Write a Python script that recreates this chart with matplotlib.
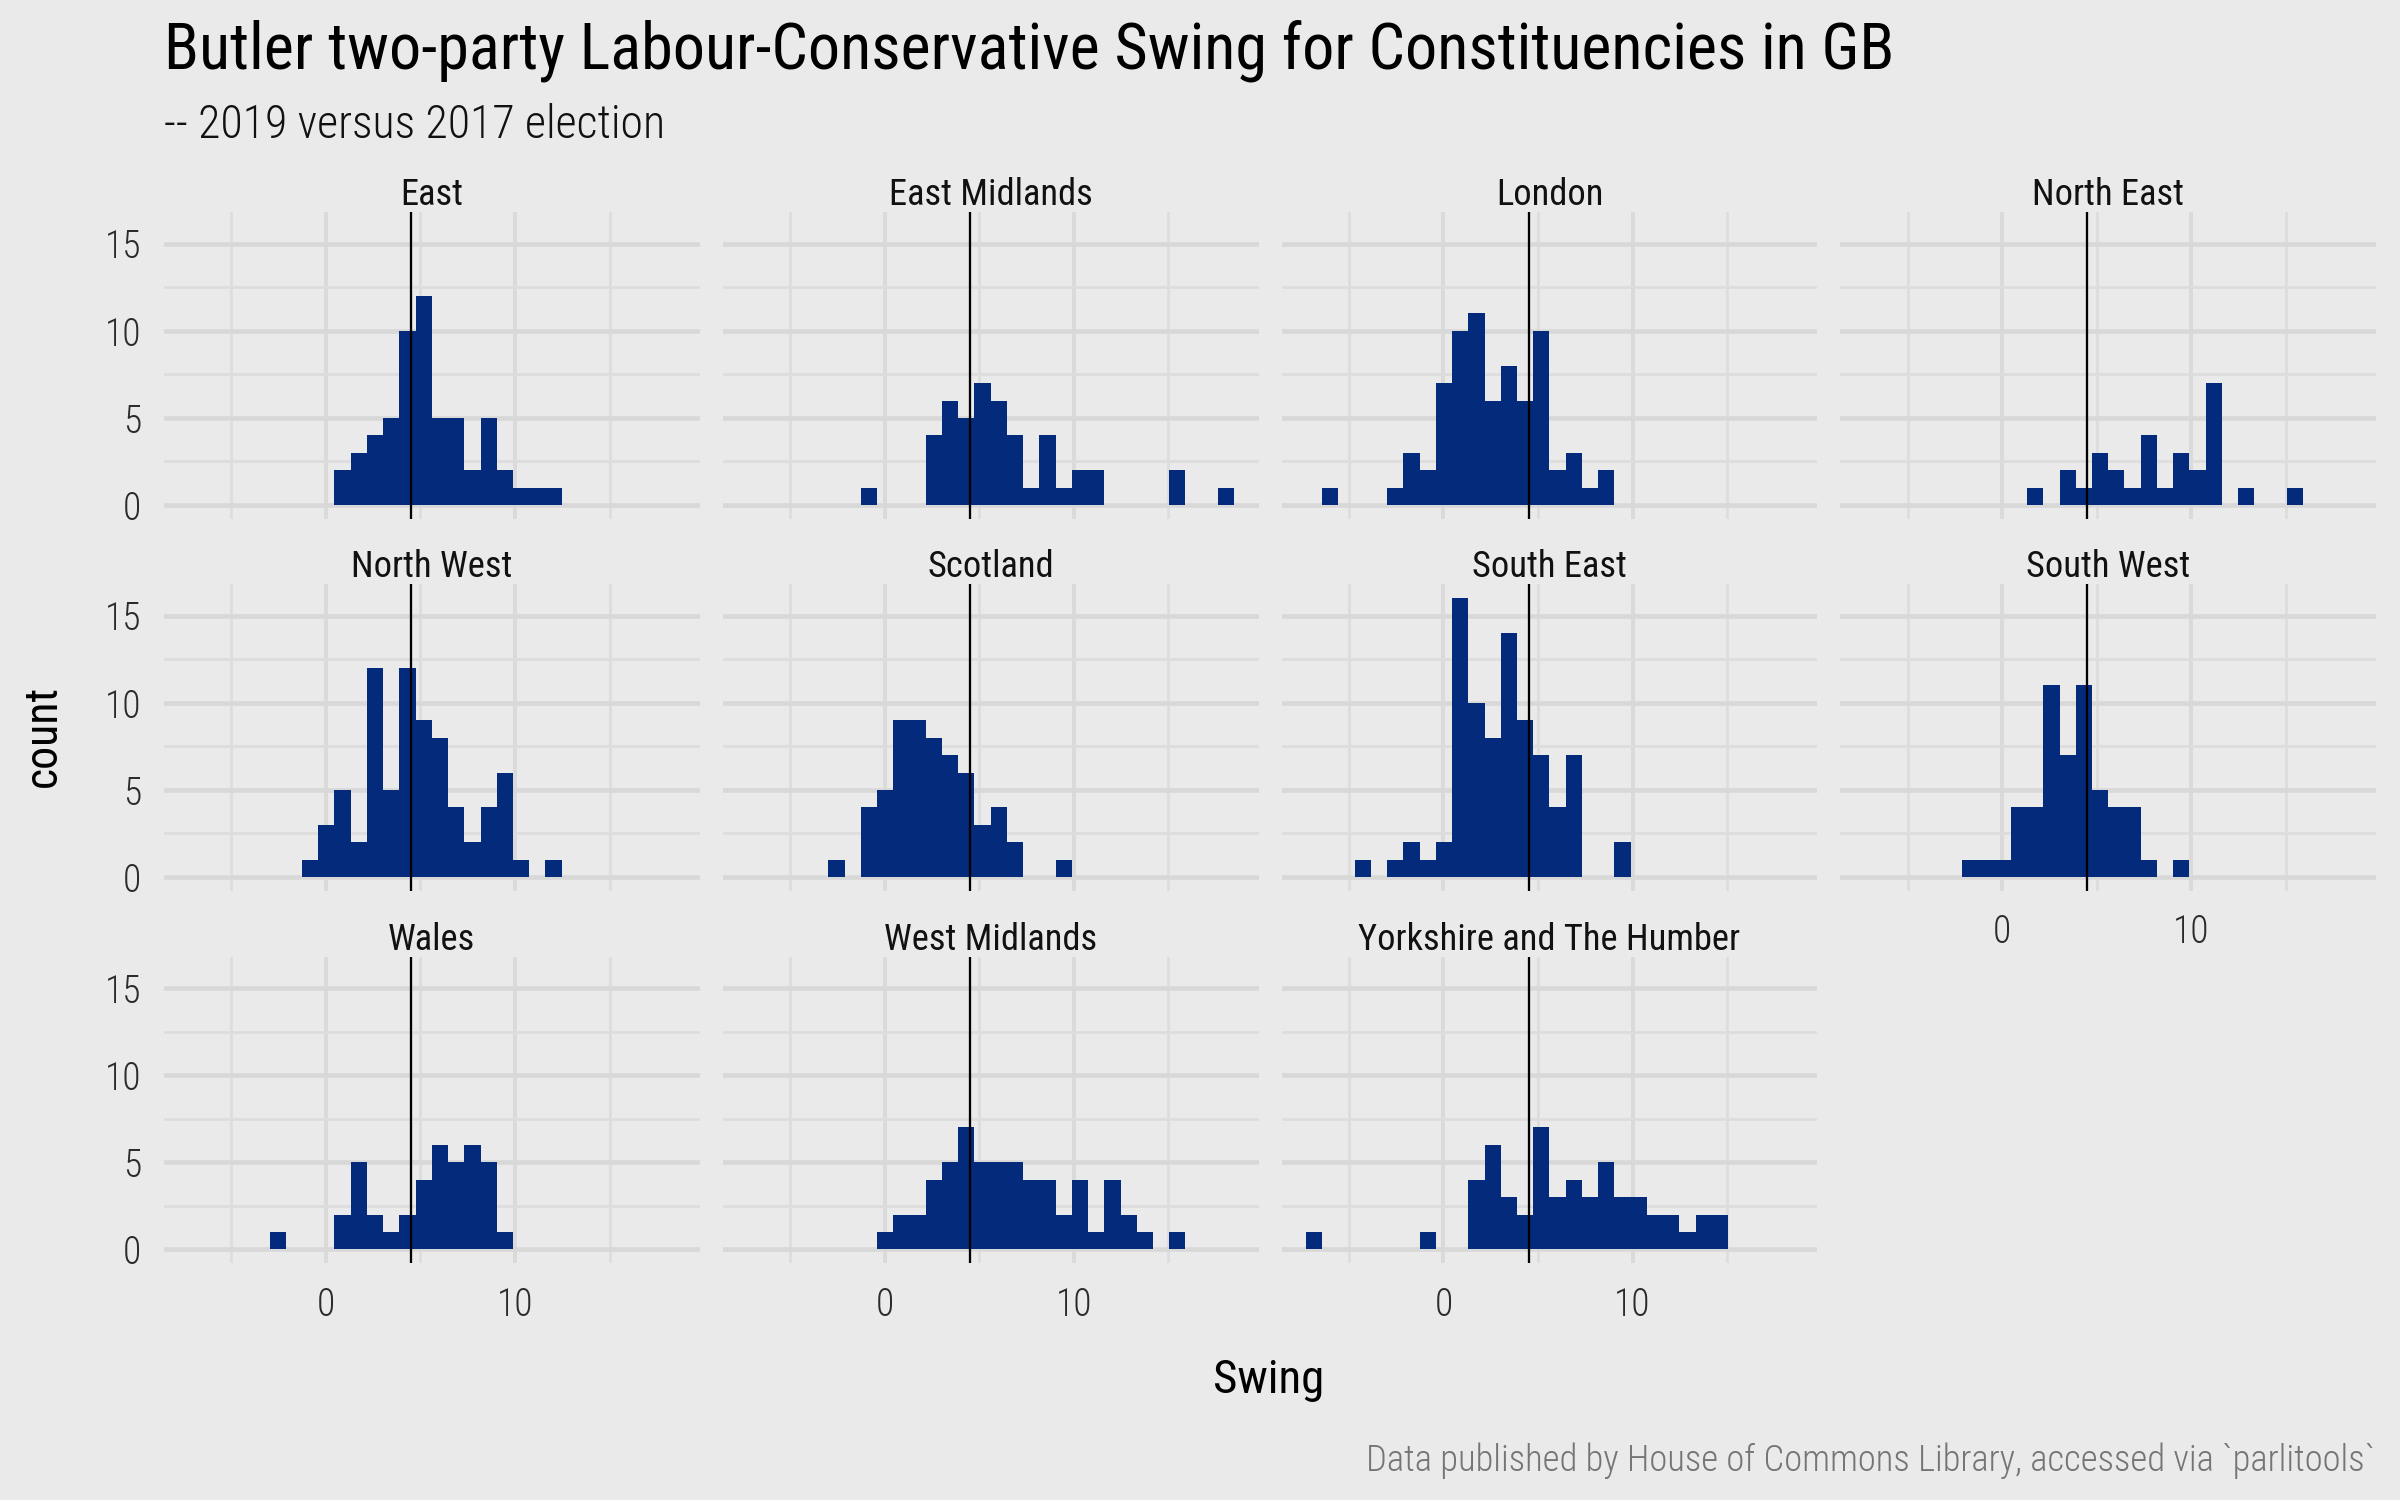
import numpy as np
import matplotlib
matplotlib.use('Agg')
import matplotlib.pyplot as plt

regions = ['East', 'East Midlands', 'London', 'North East',
           'North West', 'Scotland', 'South East', 'South West',
           'Wales', 'West Midlands', 'Yorkshire and The Humber']

# counts per bin, 30 bins
east = [0,0,0,0,0,0,0,0,0,2,3,4,5,10,12,5,5,2,5,2,1,1,1,0,0,0,0,0,0,0]
east_midlands = [0,0,0,0,0,0,0,1,0,0,0,4,6,5,7,6,4,1,4,1,2,2,0,0,0,0,2,0,0,1]
london = [0,1,0,0,0,1,3,2,7,10,11,6,8,6,10,2,3,1,2,0,0,0,0,0,0,0,0,0,0,0]
north_east = [0,0,0,0,0,0,0,0,0,0,1,0,2,1,3,2,1,4,1,3,2,7,0,1,0,0,1,0,0,0]
north_west = [0,0,0,0,0,0,0,1,3,5,2,12,5,12,9,8,4,2,4,6,1,0,1,0,0,0,0,0,0,0]
scotland = [0,0,0,0,0,1,0,4,5,9,9,8,7,6,3,4,2,0,0,1,0,0,0,0,0,0,0,0,0,0]
south_east = [0,0,0,1,0,1,2,1,2,16,10,8,14,9,7,4,7,0,0,2,0,0,0,0,0,0,0,0,0,0]
south_west = [0,0,0,0,0,0,1,1,1,4,4,11,7,11,5,4,4,1,0,1,0,0,0,0,0,0,0,0,0,0]
wales = [0,0,0,0,0,1,0,0,0,2,5,2,1,2,4,6,5,6,5,1,0,0,0,0,0,0,0,0,0,0]
west_midlands = [0,0,0,0,0,0,0,0,1,2,2,4,5,7,5,5,5,4,4,2,4,1,4,2,1,0,1,0,0,0]
yorkshire = [1,0,0,0,0,0,0,1,0,0,4,6,3,2,7,3,4,3,5,3,3,2,2,1,2,2,0,0,0,0]
all_counts = [east, east_midlands, london, north_east, north_west, scotland,
              south_east, south_west, wales, west_midlands, yorkshire]

first_edge = -7.272
bin_width = 0.8585
national_swing = 4.5

x_major = [0, 10]
x_minor = [-5, 5, 15]
y_major = [0, 5, 10, 15]
y_minor = [2.5, 7.5, 12.5]

plt.rcParams['font.family'] = 'Roboto Condensed'

bg = '#eaeaea'
W, H = 2400, 1500
fig = plt.figure(figsize=(16, 10), dpi=150, facecolor=bg)

panel_w, panel_h = 535.7, 306.7
lefts = [164, 722.8, 1281.6, 1840.4]
tops = [212.3, 584.3, 956.7]

edges = first_edge + bin_width * np.arange(31)

for i, (name, counts) in enumerate(zip(regions, all_counts)):
    row, col = divmod(i, 4)
    ax = fig.add_axes([lefts[col] / W, 1 - (tops[row] + panel_h) / H, panel_w / W, panel_h / H], facecolor=bg)
    ax.stairs(counts, edges, fill=True, color='#042a7c', linewidth=0, zorder=3)
    ax.axvline(national_swing, color='black', lw=1.1, zorder=4)
    ax.set_xlim(-8.56, 19.77)
    ax.set_ylim(-0.8, 16.8)
    ax.set_xticks(x_major)
    ax.set_xticks(x_minor, minor=True)
    ax.set_yticks(y_major)
    ax.set_yticks(y_minor, minor=True)
    ax.grid(axis='y', which='major', color='#d8d8d8', lw=2.2, zorder=0)
    ax.grid(axis='x', which='major', color='#dadada', lw=1.9, zorder=0)
    ax.grid(which='minor', color='#dddddd', lw=1.3, zorder=0)
    ax.set_axisbelow(True)
    for s in ax.spines.values():
        s.set_visible(False)
    ax.tick_params(which='both', length=0)
    ax.tick_params(axis='x', labelsize=18, labelcolor='#2b2b2b', pad=11)
    ax.tick_params(axis='y', labelsize=18, labelcolor='#2b2b2b', pad=11)
    for lab in ax.get_xticklabels() + ax.get_yticklabels():
        lab.set_fontweight('light')
    # only the outer panels keep their labels
    ax.tick_params(labelbottom=(row == 2 or i == 7), labelleft=(col == 0))
    ax.text(0.5, 1.023, name, transform=ax.transAxes, ha='center', va='baseline', fontsize=17.5, color='#111111')

fig.text(164 / W, 1 - 68 / H, 'Butler two-party Labour-Conservative Swing for Constituencies in GB',
         ha='left', va='baseline', fontsize=30.85, color='black')
fig.text(164 / W, 1 - 138 / H, '-- 2019 versus 2017 election', ha='left', va='baseline', fontsize=22,
         fontweight='light', color='#111111')
fig.text(1269 / W, 1 - 1380 / H, 'Swing', ha='center', va='center', fontsize=22.5, color='black')
fig.text(43 / W, 1 - 736 / H, 'count', ha='center', va='center', rotation=90, fontsize=22, color='black')
fig.text(2375 / W, 1 - 1461 / H, 'Data published by House of Commons Library, accessed via `parlitools`',
         ha='right', va='center', fontsize=17.6, fontweight='light', color='#757575')

fig.savefig('out.png', dpi=150, facecolor=bg)
